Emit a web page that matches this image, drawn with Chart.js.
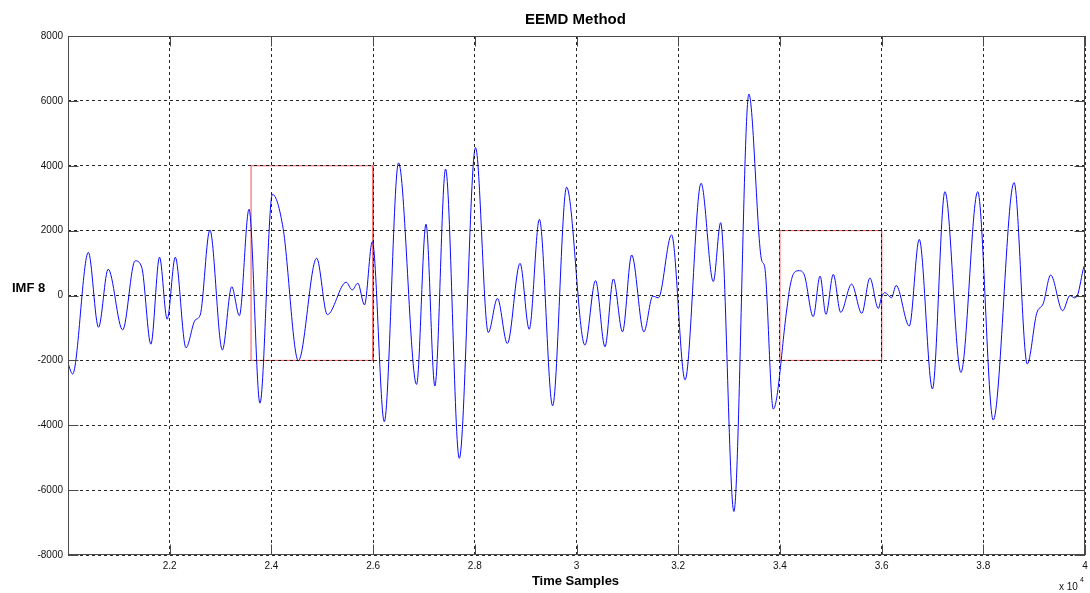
<!DOCTYPE html>
<html>
<head>
<meta charset="utf-8">
<title>EEMD Method</title>
<script src="https://cdn.jsdelivr.net/npm/chart.js@4.4.1/dist/chart.umd.min.js"></script>
<style>
  html, body { margin: 0; padding: 0; background: #ffffff; overflow: hidden; }
  canvas { display: block; }
</style>
</head>
<body>
<canvas id="imfChart" width="1090" height="593"></canvas>
<script>
// IMF 8 component: sample index and amplitude at turning points of the waveform
const samples = [
  20000, 20090, 20400, 20600, 20790, 21075, 21320, 21450, 21630, 21800,
  21950, 22110, 22320, 22500, 22600, 22790, 23035, 23220, 23370, 23560,
  23775, 24020, 24230, 24530, 24890, 25100, 25470, 25590, 25700, 25830,
  25985, 26220, 26500, 26855, 27040, 27215, 27425, 27695, 28015, 28265,
  28445, 28640, 28890, 29070, 29270, 29530, 29805, 30165, 30375, 30560,
  30725, 30905, 31085, 31325, 31500, 31610, 31870, 32135, 32450, 32690,
  32835, 33095, 33390, 33640, 33700, 33870, 34134, 34198, 34280, 34380,
  34480, 34655, 34790, 34905, 35050, 35195, 35410, 35610, 35770, 35935,
  36000, 36065, 36195, 36285, 36545, 36740, 37000, 37245, 37560, 37890,
  38195, 38605, 38865, 39050, 39180, 39325, 39560, 39705, 39790, 39850,
  39980, 40000
];
const imf8 = [
  -2090, -2420, 1330, -980, 810, -1060, 1070, 870, -1500, 1180,
  -730, 1180, -1610, -760, -600, 2020, -1680, 270, -620, 2660,
  -3320, 3120, 2070, -2010, 1150, -590, 410, 170, 380, -290,
  1660, -3890, 4090, -2740, 2200, -2790, 3900, -5020, 4560, -1140,
  -90, -1480, 990, -1040, 2350, -3400, 3340, -1530, 460, -1580,
  510, -1120, 1250, -1120, -20, -70, 1870, -2600, 3460, 430,
  2245, -6660, 6210, 1090, 890, -3500, -447, 271, 703, 765,
  632, -650, 600, -580, 650, -520, 350, -550, 540, -400,
  -40, 90, -70, 310, -940, 1730, -2880, 3200, -2370, 3200,
  -3840, 3480, -2110, -550, -240, 630, -470, 0, -70, 0,
  890, 940
];

// Highlighted intervals (sample range and amplitude band)
const regionStart = [23600, 34000];
const regionEnd   = [26000, 36000];
const regionLow   = [-2000, -2000];
const regionHigh  = [4000, 2000];

// Axis ticks
const xTickValues = [20000, 22000, 24000, 26000, 28000, 30000, 32000, 34000, 36000, 38000, 40000];
const xTickLabels = ['', '2.2', '2.4', '2.6', '2.8', '3', '3.2', '3.4', '3.6', '3.8', '4'];
const yTickLabels = ['8000', '6000', '4000', '2000', '0', '-2000', '-4000', '-6000', '-8000'];

const FONT = '"Liberation Sans", Arial, Helvetica, sans-serif';

const waveData = samples.map((x, i) => ({ x: x, y: imf8[i] }));

const regionSets = regionStart.map((s, i) => ({
  label: 'region ' + (i + 1),
  data: [
    { x: s, y: regionLow[i] },
    { x: s, y: regionHigh[i] },
    { x: regionEnd[i], y: regionHigh[i] },
    { x: regionEnd[i], y: regionLow[i] },
    { x: s, y: regionLow[i] }
  ],
  borderColor: 'rgb(245,80,80)',
  borderWidth: 1,
  pointRadius: 0,
  tension: 0,
  fill: false
}));

// Frame, inward tick marks and text labels around the plotting area
const framePlugin = {
  id: 'frame',
  afterDraw(chart) {
    const ctx = chart.ctx;
    const a = chart.chartArea;
    const xs = chart.scales.x, ys = chart.scales.y;
    const L = Math.round(a.left) + 0.5, R = Math.round(a.right) - 0.5;
    const T = Math.round(a.top) + 0.5, B = Math.round(a.bottom) - 0.5;
    ctx.save();
    ctx.strokeStyle = '#4a4a4a';
    ctx.lineWidth = 1;
    ctx.setLineDash([]);
    ctx.strokeRect(L, T, R - L, B - T);
    const tl = 10;
    ctx.beginPath();
    xs.ticks.forEach(t => {
      const px = Math.round(xs.getPixelForValue(t.value)) + 0.5;
      ctx.moveTo(px, B); ctx.lineTo(px, B - tl);
      ctx.moveTo(px, T); ctx.lineTo(px, T + tl);
    });
    ys.ticks.forEach(t => {
      const py = Math.round(ys.getPixelForValue(t.value)) + 0.5;
      ctx.moveTo(L, py); ctx.lineTo(L + tl, py);
      ctx.moveTo(R, py); ctx.lineTo(R - tl, py);
    });
    ctx.stroke();

    ctx.fillStyle = '#000000';
    ctx.textBaseline = 'middle';
    ctx.textAlign = 'center';
    ctx.font = 'bold 15px ' + FONT;
    ctx.fillText('EEMD Method', (a.left + a.right) / 2 - 1, 20);
    ctx.font = 'bold 13px ' + FONT;
    ctx.fillText('Time Samples', (a.left + a.right) / 2 - 1, 581);
    ctx.textAlign = 'left';
    ctx.fillText('IMF 8', 12, 288);
    ctx.font = '10px ' + FONT;
    ctx.fillStyle = '#111111';
    ctx.fillText('x 10', 1059, 587);
    ctx.font = '7px ' + FONT;
    ctx.fillText('4', 1080, 580);
    ctx.restore();
  }
};

new Chart(document.getElementById('imfChart'), {
  type: 'line',
  data: {
    datasets: [
      {
        label: 'IMF 8',
        data: waveData,
        borderColor: '#0a0aff',
        borderWidth: 1,
        pointRadius: 0,
        cubicInterpolationMode: 'monotone',
        fill: false
      },
      ...regionSets
    ]
  },
  options: {
    responsive: false,
    animation: false,
    devicePixelRatio: 1,
    layout: { padding: { left: 0, right: 5, top: 36, bottom: 0 } },
    plugins: {
      legend: { display: false },
      tooltip: { enabled: false },
      title: { display: false }
    },
    scales: {
      x: {
        type: 'linear',
        min: 20000,
        max: 40000,
        afterFit(scale) {
          scale.height = 38;
          scale.paddingLeft = 0;
          scale.paddingRight = 0;
        },
        afterBuildTicks(scale) { scale.ticks = xTickValues.map(v => ({ value: v })); },
        ticks: {
          autoSkip: false,
          maxRotation: 0,
          padding: 5,
          color: '#111111',
          font: { family: FONT, size: 10 },
          callback: (v, i) => xTickLabels[i]
        },
        grid: {
          drawTicks: false,
          color: 'rgba(0,0,0,0.85)',
          lineWidth: 1,
          z: 1
        },
        border: { display: false, dash: [3, 3] }
      },
      y: {
        type: 'linear',
        min: -8000,
        max: 8000,
        afterFit(scale) {
          scale.width = 68;
          scale.paddingTop = 0;
          scale.paddingBottom = 0;
        },
        ticks: {
          stepSize: 2000,
          padding: 5,
          color: '#111111',
          font: { family: FONT, size: 10 },
          callback: (v, i) => yTickLabels[yTickLabels.length - 1 - i]
        },
        grid: {
          drawTicks: false,
          color: 'rgba(0,0,0,0.85)',
          lineWidth: 1,
          z: 1
        },
        border: { display: false, dash: [3, 3] }
      }
    }
  },
  plugins: [framePlugin]
});
</script>
</body>
</html>
